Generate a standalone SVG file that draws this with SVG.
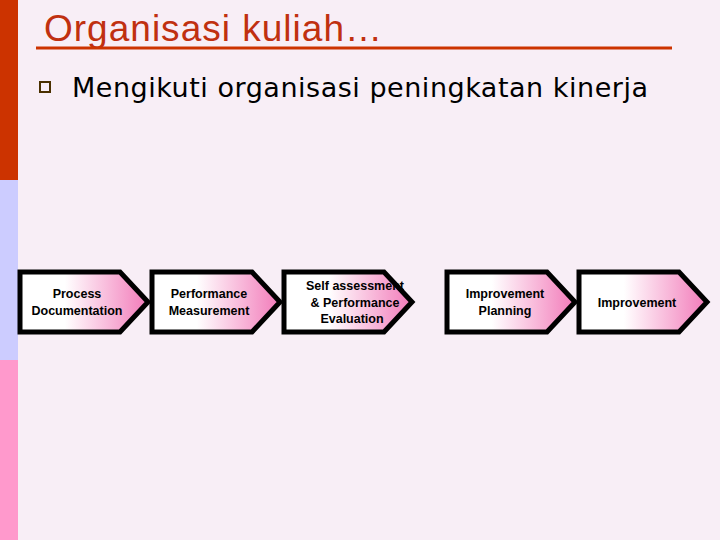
<svg xmlns="http://www.w3.org/2000/svg" width="720" height="540" viewBox="0 0 720 540">
<defs>
<linearGradient id="g" x1="0" y1="0" x2="1" y2="0"><stop offset="0.35" stop-color="#ffffff"/><stop offset="1" stop-color="#f27ab9"/></linearGradient>
<style>
.a{fill:url(#g);stroke:#000;stroke-width:5;stroke-linejoin:miter}
.t{font-family:"Liberation Sans",Arial,sans-serif;font-size:12.5px;font-weight:bold;text-anchor:middle;fill:#000}
</style>
<polygon id="arr" class="a" points="0,0 100,0 128,30 100,60 0,60"/>
</defs>
<rect width="720" height="540" fill="#f8eef6"/>
<rect x="0" y="0" width="18" height="180" fill="#cc3300"/>
<rect x="0" y="180" width="18" height="180" fill="#ccccff"/>
<rect x="0" y="360" width="18" height="180" fill="#ff99cc"/>
<text x="44" y="41" font-family="Liberation Sans,Arial,sans-serif" font-size="37" fill="#c03010" textLength="338">Organisasi kuliah…</text>
<line x1="36" y1="48" x2="672" y2="48" stroke="#cc3300" stroke-width="3"/>
<rect x="40" y="82" width="10" height="10" fill="none" stroke="#4a3000" stroke-width="2"/>
<text x="72" y="97" font-family="DejaVu Sans,Verdana,sans-serif" font-size="27" fill="#000" textLength="576">Mengikuti organisasi peningkatan kinerja</text>
<g id="n1"><use href="#arr" x="20" y="272"/><text class="t" x="77" y="298">Process</text><text class="t" x="77" y="315">Documentation</text></g>
<g id="n2"><use href="#arr" x="152" y="272"/><text class="t" x="209" y="298">Performance</text><text class="t" x="209" y="315">Measurement</text></g>
<g id="n3"><use href="#arr" x="284" y="272"/><text class="t" x="355" y="290">Self assessment</text><text class="t" x="355" y="307">&amp; Performance</text><text class="t" x="352" y="323">Evaluation</text></g>
<g id="n4"><use href="#arr" x="447" y="272"/><text class="t" x="505" y="298">Improvement</text><text class="t" x="505" y="315">Planning</text></g>
<g id="n5"><use href="#arr" x="579" y="272"/><text class="t" x="637" y="307">Improvement</text></g>
<g id="connectors"/>
</svg>
